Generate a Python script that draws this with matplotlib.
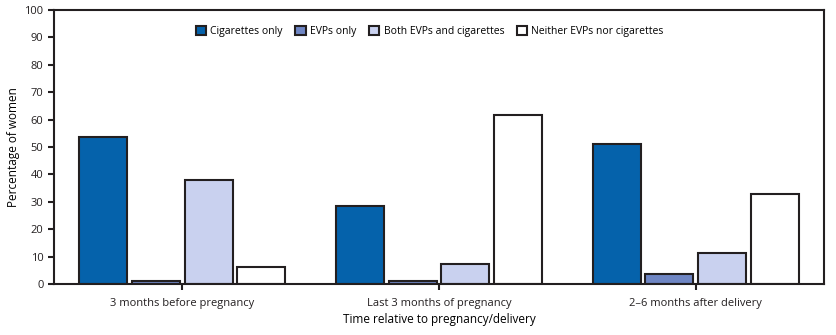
import matplotlib.pyplot as plt
import numpy as np

periods = ["3 months before pregnancy", "Last 3 months of pregnancy", "2\u20136 months after delivery"]
series_names = ["Cigarettes only", "EVPs only", "Both EVPs and cigarettes", "Neither EVPs nor cigarettes"]
cigarettes_only = [53.8, 28.5, 51.3]
evps_only = [1.3, 1.3, 3.5]
both = [38.1, 7.5, 11.5]
neither = [6.3, 61.7, 32.9]

colors = ["#0562ab", "#6f86c4", "#c9d1ef", "#ffffff"]
edge = "#231f20"

plt.rcParams["font.family"] = ["Open Sans", "DejaVu Sans"]

fig = plt.figure(figsize=(8.37, 3.35), dpi=100)
ax = fig.add_axes([0.0645, 0.152, 0.92, 0.818])

x = np.arange(len(periods))
width = 0.1875
step = 0.205
values = [cigarettes_only, evps_only, both, neither]
for i, (name, vals) in enumerate(zip(series_names, values)):
    ax.bar(x + (i - 1.5) * step, vals, width, color=colors[i], edgecolor=edge,
           linewidth=1.5, label=name, zorder=2)

ax.set_xlim(-0.5, 2.5)
ax.set_ylim(0, 100)
ax.set_yticks(range(0, 101, 10))
ax.set_xticks(x)
ax.set_xticklabels(periods)
ax.tick_params(axis="both", labelsize=8, colors="#231f20", width=1.5, length=4)
ax.tick_params(axis="x", pad=6)
for s in ax.spines.values():
    s.set_linewidth(1.5)
    s.set_color(edge)

ax.set_ylabel("Percentage of women", fontsize=8.5, labelpad=3)
ax.set_xlabel("Time relative to pregnancy/delivery", fontsize=8.5, labelpad=3)

ax.legend(loc="center", bbox_to_anchor=(0.488, 0.923), ncol=4, frameon=False,
          fontsize=7.5, handlelength=1.0, handleheight=1.0, handletextpad=0.4,
          columnspacing=1.2)

fig.savefig("out.png", dpi=100)
